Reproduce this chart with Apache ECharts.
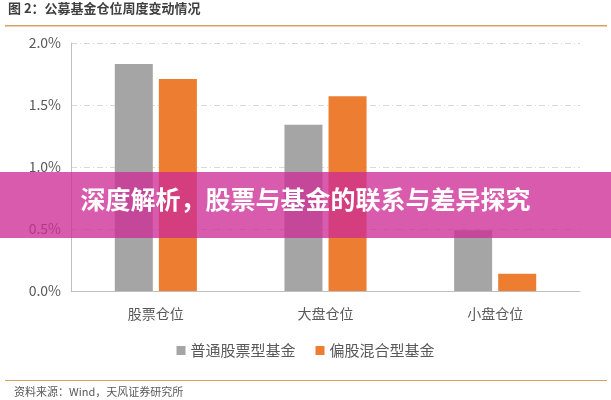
<!DOCTYPE html>
<html><head><meta charset="utf-8">
<script src="https://cdn.jsdelivr.net/npm/echarts@6/dist/echarts.min.js"></script>
<style>html,body{margin:0;padding:0;background:#fff}#c{width:611px;height:400px}</style>
</head><body><div id="c"></div>
<script>
const categories = ['股票仓位', '大盘仓位', '小盘仓位'];
const seriesNames = ['普通股票型基金', '偏股混合型基金'];
const stockFund = [1.83, 1.34, 0.49];
const mixedFund = [1.71, 1.57, 0.14];
const yTicks = [0, 0.5, 1.0, 1.5, 2.0];
const titleText = '图 2：公募基金仓位周度变动情况';
const bannerText = '深度解析，股票与基金的联系与差异探究';
const sourceText = '资料来源：Wind，天风证券研究所';

const font = '"Noto Sans CJK SC", "Noto Sans", sans-serif';
const chart = echarts.init(document.getElementById('c'));
chart.setOption({
  animation: false,
  textStyle: { fontFamily: font },
  grid: { left: 71, right: 31, top: 43, bottom: 109 },
  legend: {
    data: seriesNames, bottom: 37, left: 'center',
    icon: 'rect', itemWidth: 9, itemHeight: 9, itemGap: 20,
    textStyle: { color: '#595959', fontSize: 15, fontFamily: font }
  },
  xAxis: {
    type: 'category', data: categories,
    axisLine: { lineStyle: { color: '#bfbfbf' } },
    axisTick: { show: false },
    axisLabel: { color: '#595959', fontSize: 14, margin: 16, fontFamily: font }
  },
  yAxis: {
    type: 'value', min: yTicks[0], max: yTicks[yTicks.length - 1], interval: 0.5,
    axisLine: { show: true, lineStyle: { color: '#bfbfbf' } },
    axisTick: { show: false },
    axisLabel: { color: '#595959', fontSize: 14, margin: 10, formatter: v => v.toFixed(1) + '%', fontFamily: font },
    splitLine: { lineStyle: { color: '#d9d9d9', type: [6, 3, 1, 3] } }
  },
  series: [
    { name: seriesNames[0], type: 'bar', data: stockFund, barWidth: 38, barGap: '16%', itemStyle: { color: '#a5a5a5' } },
    { name: seriesNames[1], type: 'bar', data: mixedFund, barWidth: 38, itemStyle: { color: '#ed7d31' } }
  ],
  graphic: [
    { type: 'text', left: 8, top: 2, style: { text: titleText, fill: '#404040', font: 'bold 13px ' + font } },
    { type: 'rect', shape: { x: 5, y: 25, width: 602, height: 1.5 }, style: { fill: '#d9a066' } },
    { type: 'rect', shape: { x: 5, y: 380, width: 602, height: 1 }, style: { fill: '#d9a066' } },
    { type: 'text', left: 14, top: 386, style: { text: sourceText, fill: '#595959', font: '11px ' + font } },
    { type: 'rect', z: 100, shape: { x: 0, y: 172, width: 611, height: 66 }, style: { fill: 'rgba(205,45,150,0.78)' } },
    { type: 'text', z: 101, left: 'center', top: 187, style: { text: bannerText, fill: '#ffffff', font: 'bold 25px ' + font } }
  ]
});
</script></body></html>
